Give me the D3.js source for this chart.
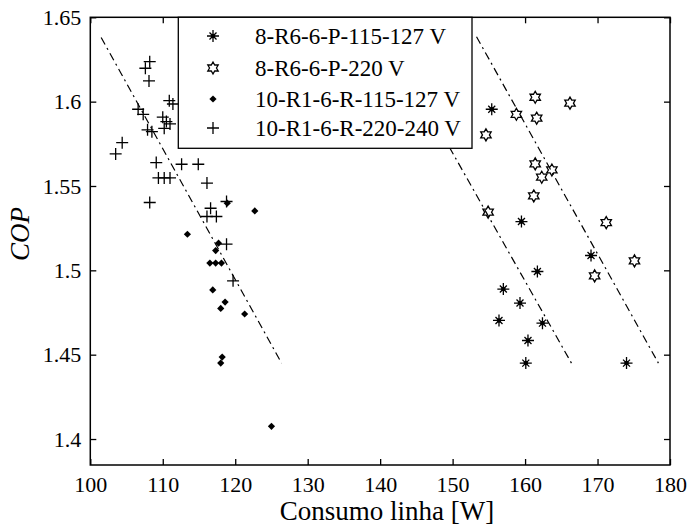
<!DOCTYPE html>
<html>
<head>
<meta charset="utf-8">
<script src="https://cdn.jsdelivr.net/npm/d3@7"></script>
<style>
  body { margin: 0; background: #fff; }
  svg text { font-family: "Liberation Serif", "Times New Roman", serif; fill: #000; }
</style>
</head>
<body>
<div id="chart"></div>
<script>
// series: [consumo W, COP]
const serie8R6_115 = [[155.4,1.5955],[159.5,1.5289],[161.7,1.4993],[157.0,1.4889],[159.3,1.4806],
  [156.4,1.4703],[162.4,1.4687],[160.4,1.4584],[160.1,1.445],[174.0,1.445],[169.1,1.5088]];
const serie8R6_220 = [[161.4,1.6026],[166.2,1.5991],[158.8,1.5925],[161.6,1.5902],[154.6,1.5803],
  [161.4,1.5631],[163.7,1.5595],[162.3,1.5552],[161.2,1.5441],[154.9,1.5345],[171.2,1.5283],
  [175.1,1.5056],[169.6,1.4967]];
const serie10R1_115 = [[118.9,1.5398],[122.7,1.5352],[113.4,1.5214],[117.7,1.5161],[117.3,1.5117],
  [116.5,1.5043],[117.3,1.5043],[118.1,1.5043],[116.9,1.4884],[118.6,1.4812],[118.0,1.4774],
  [121.3,1.4741],[118.2,1.4486],[118.0,1.445],[125.0,1.4075]];
const serie10R1_220 = [[108.2,1.6237],[107.6,1.6198],[108.1,1.6123],[110.9,1.6006],[111.4,1.5986],
  [106.6,1.5955],[107.3,1.5925],[110.0,1.5908],[110.5,1.5882],[111.0,1.5868],[110.2,1.5842],
  [107.9,1.5833],[108.5,1.5822],[104.4,1.5757],[103.5,1.569],[109.1,1.5639],[112.6,1.5629],
  [114.9,1.5629],[109.4,1.5548],[110.2,1.5548],[111.0,1.5548],[116.1,1.5517],[108.2,1.5402],
  [118.8,1.5408],[116.6,1.5368],[116.1,1.5319],[117.4,1.5319],[118.8,1.5155],[119.7,1.4938]];
// trend lines (dash-dot)
const trendLines = [
  [[101.5,1.638],[126.4,1.445]],
  [[141.0,1.638],[166.4,1.445]],
  [[153.3,1.6385],[178.4,1.445]]
];
const legendLabels = ["8-R6-6-P-115-127 V","8-R6-6-P-220 V","10-R1-6-R-115-127 V","10-R1-6-R-220-240 V"];
const xTicks = [100,110,120,130,140,150,160,170,180];
const yTicks = [1.4,1.45,1.5,1.55,1.6,1.65];

const width = 690, height = 525;
const margin = { top: 17.3, right: 20, bottom: 60, left: 90.3 };
const svg = d3.select("#chart").append("svg").attr("width", width).attr("height", height);

const x = d3.scaleLinear().domain([100,180]).range([margin.left, width - margin.right]);
const y = d3.scaleLinear().domain([1.3846,1.65]).range([height - margin.bottom, margin.top]);

const plotW = width - margin.right - margin.left;
const plotH = height - margin.bottom - margin.top;

// axes (ticks inward, mirrored)
const fs = 22;
svg.append("g").attr("transform", `translate(0,${y.range()[0]})`)
  .call(d3.axisBottom(x).tickValues(xTicks).tickSize(-6).tickPadding(11).tickFormat(d3.format("d")))
  .call(g => g.select(".domain").remove())
  .call(g => g.selectAll("text").style("font-size", fs + "px"));
svg.append("g").attr("transform", `translate(0,${margin.top})`)
  .call(d3.axisTop(x).tickValues(xTicks).tickSize(-6).tickFormat(""))
  .call(g => g.select(".domain").remove());
svg.append("g").attr("transform", `translate(${margin.left},0)`)
  .call(d3.axisLeft(y).tickValues(yTicks).tickSize(-6).tickPadding(9).tickFormat(d => d3.format("")(+d.toFixed(2))))
  .call(g => g.select(".domain").remove())
  .call(g => g.selectAll("text").style("font-size", fs + "px"));
svg.append("g").attr("transform", `translate(${x.range()[1]},0)`)
  .call(d3.axisRight(y).tickValues(yTicks).tickSize(-6).tickFormat(""))
  .call(g => g.select(".domain").remove());
svg.selectAll(".tick line").attr("stroke", "#000").attr("stroke-width", 1.3);

// trend lines
const line = d3.line().x(d => x(d[0])).y(d => y(d[1]));
svg.append("g").selectAll("path").data(trendLines).join("path")
  .attr("d", line).attr("fill", "none").attr("stroke", "#000")
  .attr("stroke-width", 1.2).attr("stroke-dasharray", "8,4,2,4");

// marker drawers
function hexagram(r) {
  const pts = [];
  for (let i = 0; i < 12; i++) {
    const a = -Math.PI / 2 + i * Math.PI / 6;
    const rr = i % 2 === 0 ? r : r / Math.sqrt(3);
    pts.push([rr * Math.cos(a), rr * Math.sin(a)]);
  }
  return "M" + pts.map(p => p.join(",")).join("L") + "Z";
}
function drawMarker(g, type) {
  if (type === 0) {
    g.append("path").attr("d", "M-6,0H6M0,-6V6M-3.5,-3.5L3.5,3.5M-3.5,3.5L3.5,-3.5")
      .attr("stroke", "#000").attr("stroke-width", 1.3);
    g.append("circle").attr("r", 2.3).attr("fill", "#000");
  } else if (type === 1) {
    g.append("path").attr("d", hexagram(6)).attr("fill", "none").attr("stroke", "#000").attr("stroke-width", 1.3);
  } else if (type === 2) {
    g.append("path").attr("d", "M0,-3.6L3.6,0L0,3.6L-3.6,0Z").attr("fill", "#000");
  } else {
    g.append("path").attr("d", "M-6,0H6M0,-6V6").attr("stroke", "#000").attr("stroke-width", 1.3);
  }
}

const seriesList = [serie8R6_115, serie8R6_220, serie10R1_115, serie10R1_220];
seriesList.forEach((s, i) => {
  svg.append("g").selectAll("g").data(s).join("g")
    .attr("transform", d => `translate(${x(d[0])},${y(d[1])})`)
    .each(function() { drawMarker(d3.select(this), i); });
});

// frame
svg.append("rect").attr("x", margin.left).attr("y", margin.top)
  .attr("width", plotW).attr("height", plotH)
  .attr("fill", "none").attr("stroke", "#000").attr("stroke-width", 1.5);

// legend
const leg = svg.append("g");
leg.append("rect").attr("x", 178.3).attr("y", margin.top).attr("width", 472 - 178.3).attr("height", 148.3 - margin.top)
  .attr("fill", "#fff").attr("stroke", "#000").attr("stroke-width", 1.3);
const rowsY = [36, 68, 99, 128];
legendLabels.forEach((lab, i) => {
  const g = leg.append("g").attr("transform", `translate(213,${rowsY[i]})`);
  drawMarker(g, i);
  leg.append("text").attr("x", 255).attr("y", rowsY[i] + 8).style("font-size", "23px").text(lab);
});

// axis titles
svg.append("text").attr("x", 387).attr("y", 520).attr("text-anchor", "middle")
  .style("font-size", "27px").text("Consumo linha [W]");
svg.append("text").attr("transform", "translate(29,234) rotate(-90)").attr("text-anchor", "middle")
  .style("font-size", "27px").style("font-style", "italic").text("COP");
</script>
</body>
</html>
